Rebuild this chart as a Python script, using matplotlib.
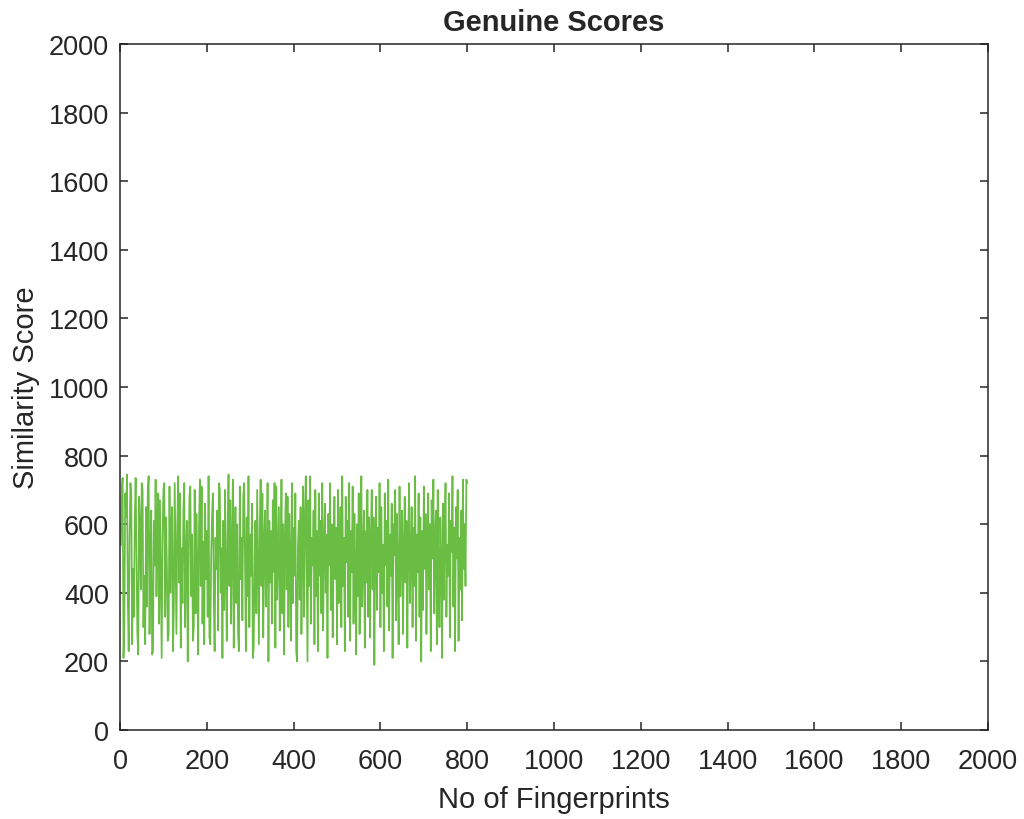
import numpy as np
import matplotlib.pyplot as plt

plt.rcParams['font.family'] = ['Liberation Sans', 'DejaVu Sans']

# similarity scores, every second fingerprint up to 800
scores = [
    540, 700, 735, 210, 300, 690, 620, 745, 380, 230, 560, 720, 690, 250, 470, 330, 610, 735, 520, 280,
    220, 680, 590, 410, 720, 700, 300, 450, 250, 650, 360, 700, 740, 280, 540, 640, 220, 230, 610, 480,
    730, 390, 600, 690, 310, 670, 450, 210, 560, 700, 720, 330, 620, 480, 260, 280, 710, 400, 580, 650,
    230, 350, 720, 490, 280, 600, 740, 430, 690, 240, 530, 370, 640, 720, 300, 510, 610, 200, 460, 680,
    710, 390, 570, 260, 300, 700, 340, 630, 480, 220, 590, 730, 420, 710, 310, 550, 250, 660, 440, 580,
    330, 740, 270, 250, 510, 620, 690, 380, 230, 560, 470, 640, 290, 720, 700, 400, 530, 210, 610, 350,
    700, 460, 260, 580, 745, 420, 670, 310, 540, 730, 240, 490, 650, 370, 600, 280, 230, 710, 440, 560,
    320, 680, 720, 500, 230, 620, 390, 740, 300, 570, 450, 660, 210, 240, 530, 610, 340, 700, 480, 250,
    590, 730, 420, 690, 270, 550, 640, 360, 490, 720, 200, 610, 430, 580, 310, 670, 460, 720, 240, 710,
    380, 520, 650, 290, 470, 730, 340, 600, 220, 560, 690, 410, 680, 300, 630, 500, 260, 720, 370, 590,
    450, 690, 230, 200, 540, 610, 380, 650, 280, 520, 710, 330, 600, 740, 460, 200, 670, 420, 740, 310,
    560, 480, 640, 250, 700, 390, 580, 230, 690, 450, 610, 340, 720, 290, 530, 660, 400, 570, 210, 630,
    480, 720, 350, 600, 270, 510, 680, 440, 590, 250, 700, 370, 540, 650, 300, 740, 420, 560, 230, 680,
    490, 610, 330, 720, 260, 580, 460, 710, 310, 630, 480, 220, 600, 390, 690, 280, 550, 740, 360, 510,
    640, 240, 580, 430, 700, 330, 620, 270, 560, 700, 410, 620, 190, 530, 680, 350, 590, 460, 720, 300,
    650, 400, 540, 230, 690, 480, 610, 360, 730, 290, 570, 450, 660, 210, 600, 510, 700, 320, 630, 470,
    250, 710, 390, 560, 640, 280, 520, 680, 430, 610, 240, 550, 720, 370, 490, 650, 300, 590, 420, 740,
    260, 570, 460, 690, 330, 620, 200, 580, 350, 710, 470, 630, 280, 520, 690, 410, 600, 230, 670, 500,
    730, 340, 560, 640, 250, 700, 440, 300, 620, 490, 210, 660, 380, 580, 720, 330, 540, 450, 690, 270,
    610, 520, 740, 360, 590, 230, 650, 500, 700, 260, 560, 410, 640, 320, 730, 470, 600, 420, 730, 720,
]
fingerprints = np.arange(2, 2 * len(scores) + 1, 2)

ticks = np.arange(0, 2001, 200)
axis_col = '#262626'

fig = plt.figure(figsize=(10.24, 8.2), dpi=100)
ax = fig.add_axes([0.1172, 0.1085, 0.8477, 0.8366])
ax.plot(fingerprints, scores, color='#68bd42', linewidth=1.25)

ax.set_xlim(0, 2000)
ax.set_ylim(0, 2000)
ax.set_xticks(ticks)
ax.set_yticks(ticks)
ax.tick_params(direction='in', top=True, right=True, length=6, width=1.1,
               colors=axis_col, labelsize=19.5)
ax.tick_params(axis='x', pad=13)
ax.tick_params(axis='y', pad=8)
for s in ax.spines.values():
    s.set_color(axis_col)
    s.set_linewidth(1.1)

ax.set_title('Genuine Scores', fontsize=21, fontweight='bold', color=axis_col, pad=10)
ax.set_xlabel('No of Fingerprints', fontsize=21, color=axis_col, labelpad=8)
ax.set_ylabel('Similarity Score', fontsize=21, color=axis_col, labelpad=6)

fig.savefig('out.png', dpi=100)
